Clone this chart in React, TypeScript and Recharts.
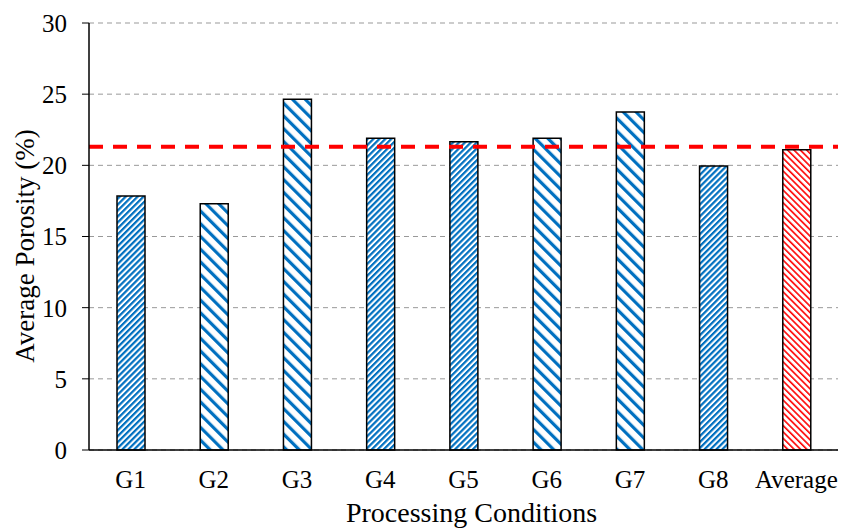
import { BarChart, Bar, XAxis, YAxis, CartesianGrid, ReferenceLine, Cell } from 'recharts'

const categories = ['G1', 'G2', 'G3', 'G4', 'G5', 'G6', 'G7', 'G8', 'Average']
const porosity = [17.85, 17.3, 24.65, 21.9, 21.65, 21.9, 23.75, 19.95, 21.1]
const yTicks = [0, 5, 10, 15, 20, 25, 30]
const overallAverage = 21.3

const data = categories.map((name, i) => ({ name, value: porosity[i] }))

// hatch used per bar
const fills = [
  'url(#fineBlue)', 'url(#wideBlue)', 'url(#wideBlue)', 'url(#fineBlue)', 'url(#fineBlue)',
  'url(#wideBlue)', 'url(#wideBlue)', 'url(#fineBlue)', 'url(#fineRed)',
]

const font = '"Liberation Serif", "Times New Roman", serif'

const YLabel = () => (
  <text
    x={25}
    y={246}
    transform="rotate(-90, 25, 246)"
    textAnchor="middle"
    dominantBaseline="central"
    fill="#000"
    style={{ fontSize: 27, fontFamily: font }}
  >
    Average Porosity (%)
  </text>
)

export default function App() {
  return (
    <div style={{ position: 'absolute', left: 0, top: 0, fontFamily: font }}>
      <svg width={0} height={0} style={{ position: 'absolute' }}>
        <defs>
          <pattern id="fineBlue" width={4.2} height={4.2} patternUnits="userSpaceOnUse" patternTransform="rotate(45)">
            <rect width={4.2} height={4.2} fill="#fff" />
            <rect width={2.2} height={4.2} fill="#0070C0" />
          </pattern>
          <pattern id="wideBlue" width={9} height={9} patternUnits="userSpaceOnUse" patternTransform="rotate(-45)">
            <rect width={9} height={9} fill="#fff" />
            <rect width={3.2} height={9} fill="#0070C0" />
          </pattern>
          <pattern id="fineRed" width={4.5} height={4.5} patternUnits="userSpaceOnUse" patternTransform="rotate(-45)">
            <rect width={4.5} height={4.5} fill="#fff" />
            <rect width={1.6} height={4.5} fill="#FF0000" />
          </pattern>
        </defs>
      </svg>
      <BarChart width={842} height={529} data={data} margin={{ top: 23, right: 4, bottom: 0, left: 0 }}>
        <CartesianGrid vertical={false} stroke="#999" strokeDasharray="5 4" />
        <XAxis
          dataKey="name"
          height={79}
          tickLine={false}
          tickSize={0}
          tickMargin={20}
          axisLine={{ stroke: '#000', strokeWidth: 1.5 }}
          tick={{ fill: '#000', fontSize: 25, fontFamily: font }}
          label={{ value: 'Processing Conditions', position: 'insideBottom', offset: 7, dx: 8, fill: '#000', style: { fontSize: 28, fontFamily: font } }}
        />
        <XAxis xAxisId="top" orientation="top" dataKey="name" height={0} tick={false} tickLine={false} axisLine={{ stroke: '#000', strokeWidth: 1.5 }} />
        <YAxis
          width={89}
          domain={[0, 30]}
          ticks={yTicks}
          interval={0}
          tickSize={7}
          tickMargin={15}
          tickLine={{ stroke: '#000' }}
          axisLine={{ stroke: '#000', strokeWidth: 1.5 }}
          tick={{ fill: '#000', fontSize: 25, fontFamily: font }}
          label={<YLabel />}
        />
        <YAxis yAxisId="right" orientation="right" width={0} domain={[0, 30]} tick={false} tickLine={false} axisLine={{ stroke: '#000', strokeWidth: 1.5 }} />
        <Bar dataKey="value" barSize={28} stroke="#000" strokeWidth={1.5} isAnimationActive={false}>
          {data.map((d, i) => (
            <Cell key={d.name} fill={fills[i]} />
          ))}
        </Bar>
        <ReferenceLine y={overallAverage} stroke="#FF0000" strokeWidth={4} strokeDasharray="14 10" />
      </BarChart>
    </div>
  )
}
